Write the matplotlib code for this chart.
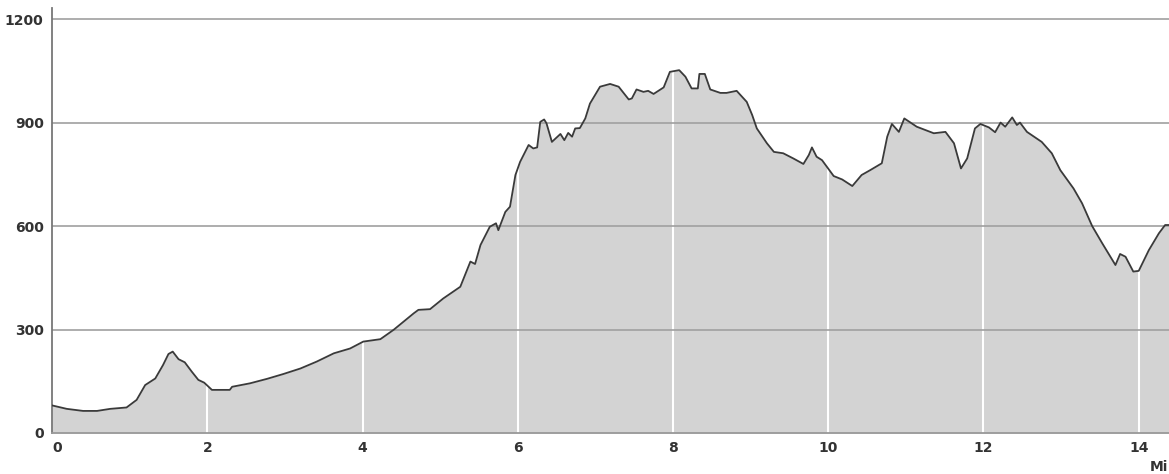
import numpy as np
import matplotlib.pyplot as plt

# distance (mi) and elevation
dist = [0.00, 0.19, 0.40, 0.58, 0.75, 0.96, 1.09, 1.20, 1.33, 1.43, 1.50, 1.555,
        1.63, 1.71, 1.80, 1.885, 1.96, 2.06, 2.29, 2.32, 2.55, 2.77, 2.98, 3.20,
        3.41, 3.63, 3.84, 4.01, 4.23, 4.40, 4.66, 4.72, 4.87, 5.04, 5.26, 5.39,
        5.45, 5.52, 5.64, 5.72, 5.75, 5.84, 5.90, 5.97, 6.03, 6.14, 6.20, 6.25,
        6.29, 6.34, 6.37, 6.44, 6.55, 6.60, 6.65, 6.70, 6.74, 6.80, 6.87, 6.93,
        7.06, 7.19, 7.30, 7.43, 7.47, 7.53, 7.62, 7.68, 7.75, 7.88, 7.96, 8.08,
        8.16, 8.24, 8.32, 8.34, 8.41, 8.48, 8.61, 8.69, 8.82, 8.95, 9.02, 9.08,
        9.21, 9.30, 9.42, 9.55, 9.68, 9.75, 9.79, 9.85, 9.92, 10.07, 10.18, 10.31,
        10.43, 10.54, 10.69, 10.76, 10.82, 10.91, 10.98, 11.14, 11.36, 11.51,
        11.62, 11.71, 11.79, 11.89, 11.96, 12.07, 12.15, 12.22, 12.28, 12.37,
        12.43, 12.47, 12.56, 12.75, 12.88, 12.99, 13.16, 13.27, 13.40, 13.53,
        13.70, 13.76, 13.83, 13.93, 14.00, 14.13, 14.26, 14.34, 14.39]
elev = [80, 70, 64, 64, 70, 74, 96, 139, 158, 197, 229, 236,
        214, 205, 178, 154, 146, 125, 125, 134, 144, 157, 171, 187,
        207, 231, 245, 265, 272, 299, 347, 357, 359, 390, 424, 497,
        490, 545, 598, 608, 588, 641, 656, 748, 786, 835, 825, 828,
        902, 909, 898, 844, 867, 849, 870, 859, 883, 884, 912, 955,
        1004, 1012, 1004, 967, 970, 996, 989, 992, 983, 1002, 1047, 1052,
        1033, 999, 999, 1041, 1041, 996, 986, 986, 992, 960, 922, 883,
        840, 815, 811, 796, 780, 806, 828, 801, 791, 745, 735, 716,
        748, 762, 782, 859, 896, 873, 912, 888, 869, 873,
        840, 767, 796, 883, 896, 886, 872, 900, 888, 915,
        893, 900, 873, 844, 811, 762, 709, 666, 600, 550,
        487, 519, 511, 468, 470, 530, 579, 603, 603]

xticks = [0, 2, 4, 6, 8, 10, 12, 14]
yticks = [0, 300, 600, 900, 1200]

fig = plt.figure(figsize=(11.69, 4.74), dpi=100)
ax = fig.add_axes([0.0445, 0.0865, 0.9555, 0.8965])

ax.fill_between(dist, elev, 0, color='#d3d3d3', lw=0, zorder=1)
for x in xticks[1:]:
    ax.axvline(x, color='white', lw=1.5, zorder=2)
for y in yticks[1:]:
    ax.axhline(y, color='#a0a0a0', lw=1.2, zorder=2.5)
ax.plot(dist, elev, color='#3a3a3a', lw=1.3, zorder=3)

ax.set_xlim(0, 14.39)
ax.set_ylim(0, 1232)
ax.set_xticks(xticks)
ax.set_yticks(yticks)
ax.tick_params(length=0, labelsize=10, colors='#333333', pad=6)
for lab in ax.get_xticklabels() + ax.get_yticklabels():
    lab.set_fontweight('bold')
ax.get_xticklabels()[0].set_horizontalalignment('left')

for s in ['top', 'right']:
    ax.spines[s].set_visible(False)
ax.spines['left'].set_color('#777777')
ax.spines['bottom'].set_color('#999999')
ax.spines['left'].set_linewidth(1.3)
ax.spines['bottom'].set_linewidth(1.3)

# unit label in the bottom-right corner
fig.text(1168 / 1169, 1 - 467 / 474, 'Mi', fontsize=10, fontweight='bold',
         color='#333333', ha='right', va='center')

fig.savefig('out.png', dpi=100, facecolor='white')
